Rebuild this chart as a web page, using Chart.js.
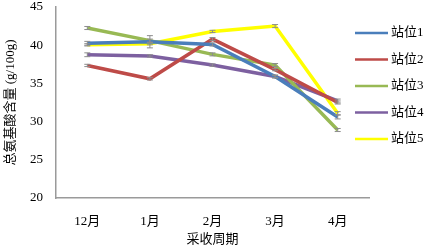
<!DOCTYPE html>
<html lang="zh">
<head>
  <meta charset="UTF-8">
  <title>总氨基酸含量</title>
  <script src="https://cdn.jsdelivr.net/npm/chart.js"></script>
  <style>
    html, body { margin: 0; padding: 0; background: #fff; }
  </style>
</head>
<body>
  <canvas id="chart" width="425" height="251"></canvas>
  <script>
    const months = ['12月', '1月', '2月', '3月', '4月'];
    const stationNames = ['站位1', '站位2', '站位3', '站位4', '站位5'];
    const station1 = [40.25, 40.45, 40.1, 35.9, 30.6];
    const station2 = [37.35, 35.6, 40.8, 36.8, 32.5];
    const station3 = [42.25, 40.6, 38.8, 37.4, 28.9];
    const station4 = [38.75, 38.6, 37.4, 35.9, 32.7];
    const station5 = [40.05, 40.2, 41.8, 42.5, 31.1];
    const err1 = [0.25, 0.8, 0.2, 0.2, 0.25];
    const err2 = [0.15, 0.15, 0.2, 0.15, 0.2];
    const err3 = [0.2, 0.2, 0.2, 0.2, 0.2];
    const err4 = [0.25, 0.15, 0.15, 0.15, 0.25];
    const err5 = [0.15, 0.15, 0.15, 0.2, 0.2];
    const colors = ['#4a7ebb', '#be4b48', '#98b954', '#7d60a0', '#ffff00'];

    const serif = "'Liberation Serif', 'Noto Sans CJK SC', serif";
    const series = [station1, station2, station3, station4, station5];
    const errors = [err1, err2, err3, err4, err5];

    // grey error bars with small caps
    const errorBars = {
      id: 'errorBars',
      afterDatasetsDraw(chart) {
        const ctx = chart.ctx;
        const y = chart.scales.y;
        ctx.save();
        ctx.strokeStyle = '#8c8c8c';
        ctx.lineWidth = 1;
        chart.data.datasets.forEach((ds, i) => {
          chart.getDatasetMeta(i).data.forEach((pt, j) => {
            const v = ds.data[j], e = errors[i][j];
            const top = y.getPixelForValue(v + e), bot = y.getPixelForValue(v - e);
            ctx.beginPath();
            ctx.moveTo(pt.x, top); ctx.lineTo(pt.x, bot);
            ctx.moveTo(pt.x - 3, top); ctx.lineTo(pt.x + 3, top);
            ctx.moveTo(pt.x - 3, bot); ctx.lineTo(pt.x + 3, bot);
            ctx.stroke();
          });
        });
        ctx.restore();
      }
    };

    // legend sits over the right edge of the plot, like the original
    const sideLegend = {
      id: 'sideLegend',
      afterDraw(chart) {
        const ctx = chart.ctx;
        ctx.save();
        ctx.font = '13px ' + serif;
        ctx.textBaseline = 'middle';
        ctx.fillStyle = '#000';
        chart.data.datasets.forEach((ds, i) => {
          const yy = 33 + i * 26.5;
          ctx.strokeStyle = ds.borderColor;
          ctx.lineWidth = 2.5;
          ctx.beginPath();
          ctx.moveTo(355, yy); ctx.lineTo(388, yy);
          ctx.stroke();
          ctx.fillText(ds.label, 391, yy);
        });
        ctx.restore();
      }
    };

    new Chart(document.getElementById('chart'), {
      type: 'line',
      data: {
        labels: months,
        datasets: series.map((d, i) => ({
          label: stationNames[i],
          data: d,
          borderColor: colors[i],
          backgroundColor: colors[i],
          borderWidth: 3.5,
          pointRadius: 0,
          tension: 0
        }))
      },
      options: {
        responsive: false,
        animation: false,
        layout: { padding: { top: 7, right: 56, left: 0, bottom: 0 } },
        plugins: {
          legend: { display: false },
          tooltip: { enabled: false }
        },
        scales: {
          x: {
            offset: true,
            grid: { display: false, drawTicks: false },
            border: { color: '#9a9a9a', width: 1.5 },
            ticks: { color: '#000', font: { family: serif, size: 13 }, padding: 16 },
            title: { display: true, text: '采收周期', color: '#000', font: { family: serif, size: 13 }, padding: { top: 3 } },
            afterFit: s => { s.height = 53; s.paddingLeft = 0; s.paddingRight = 0; }
          },
          y: {
            min: 20, max: 45,
            grid: { display: false, drawTicks: false },
            border: { color: '#9a9a9a', width: 1.5 },
            ticks: { stepSize: 5, color: '#000', font: { family: serif, size: 13 }, padding: 13 },
            title: { display: true, text: '总氨基酸含量 (g/100g)', color: '#000', font: { family: serif, size: 13 }, padding: { top: 3, bottom: 0 } },
            afterFit: s => { s.width = 56; s.paddingTop = 0; s.paddingBottom = 0; }
          }
        }
      },
      plugins: [errorBars, sideLegend]
    });
  </script>
</body>
</html>
